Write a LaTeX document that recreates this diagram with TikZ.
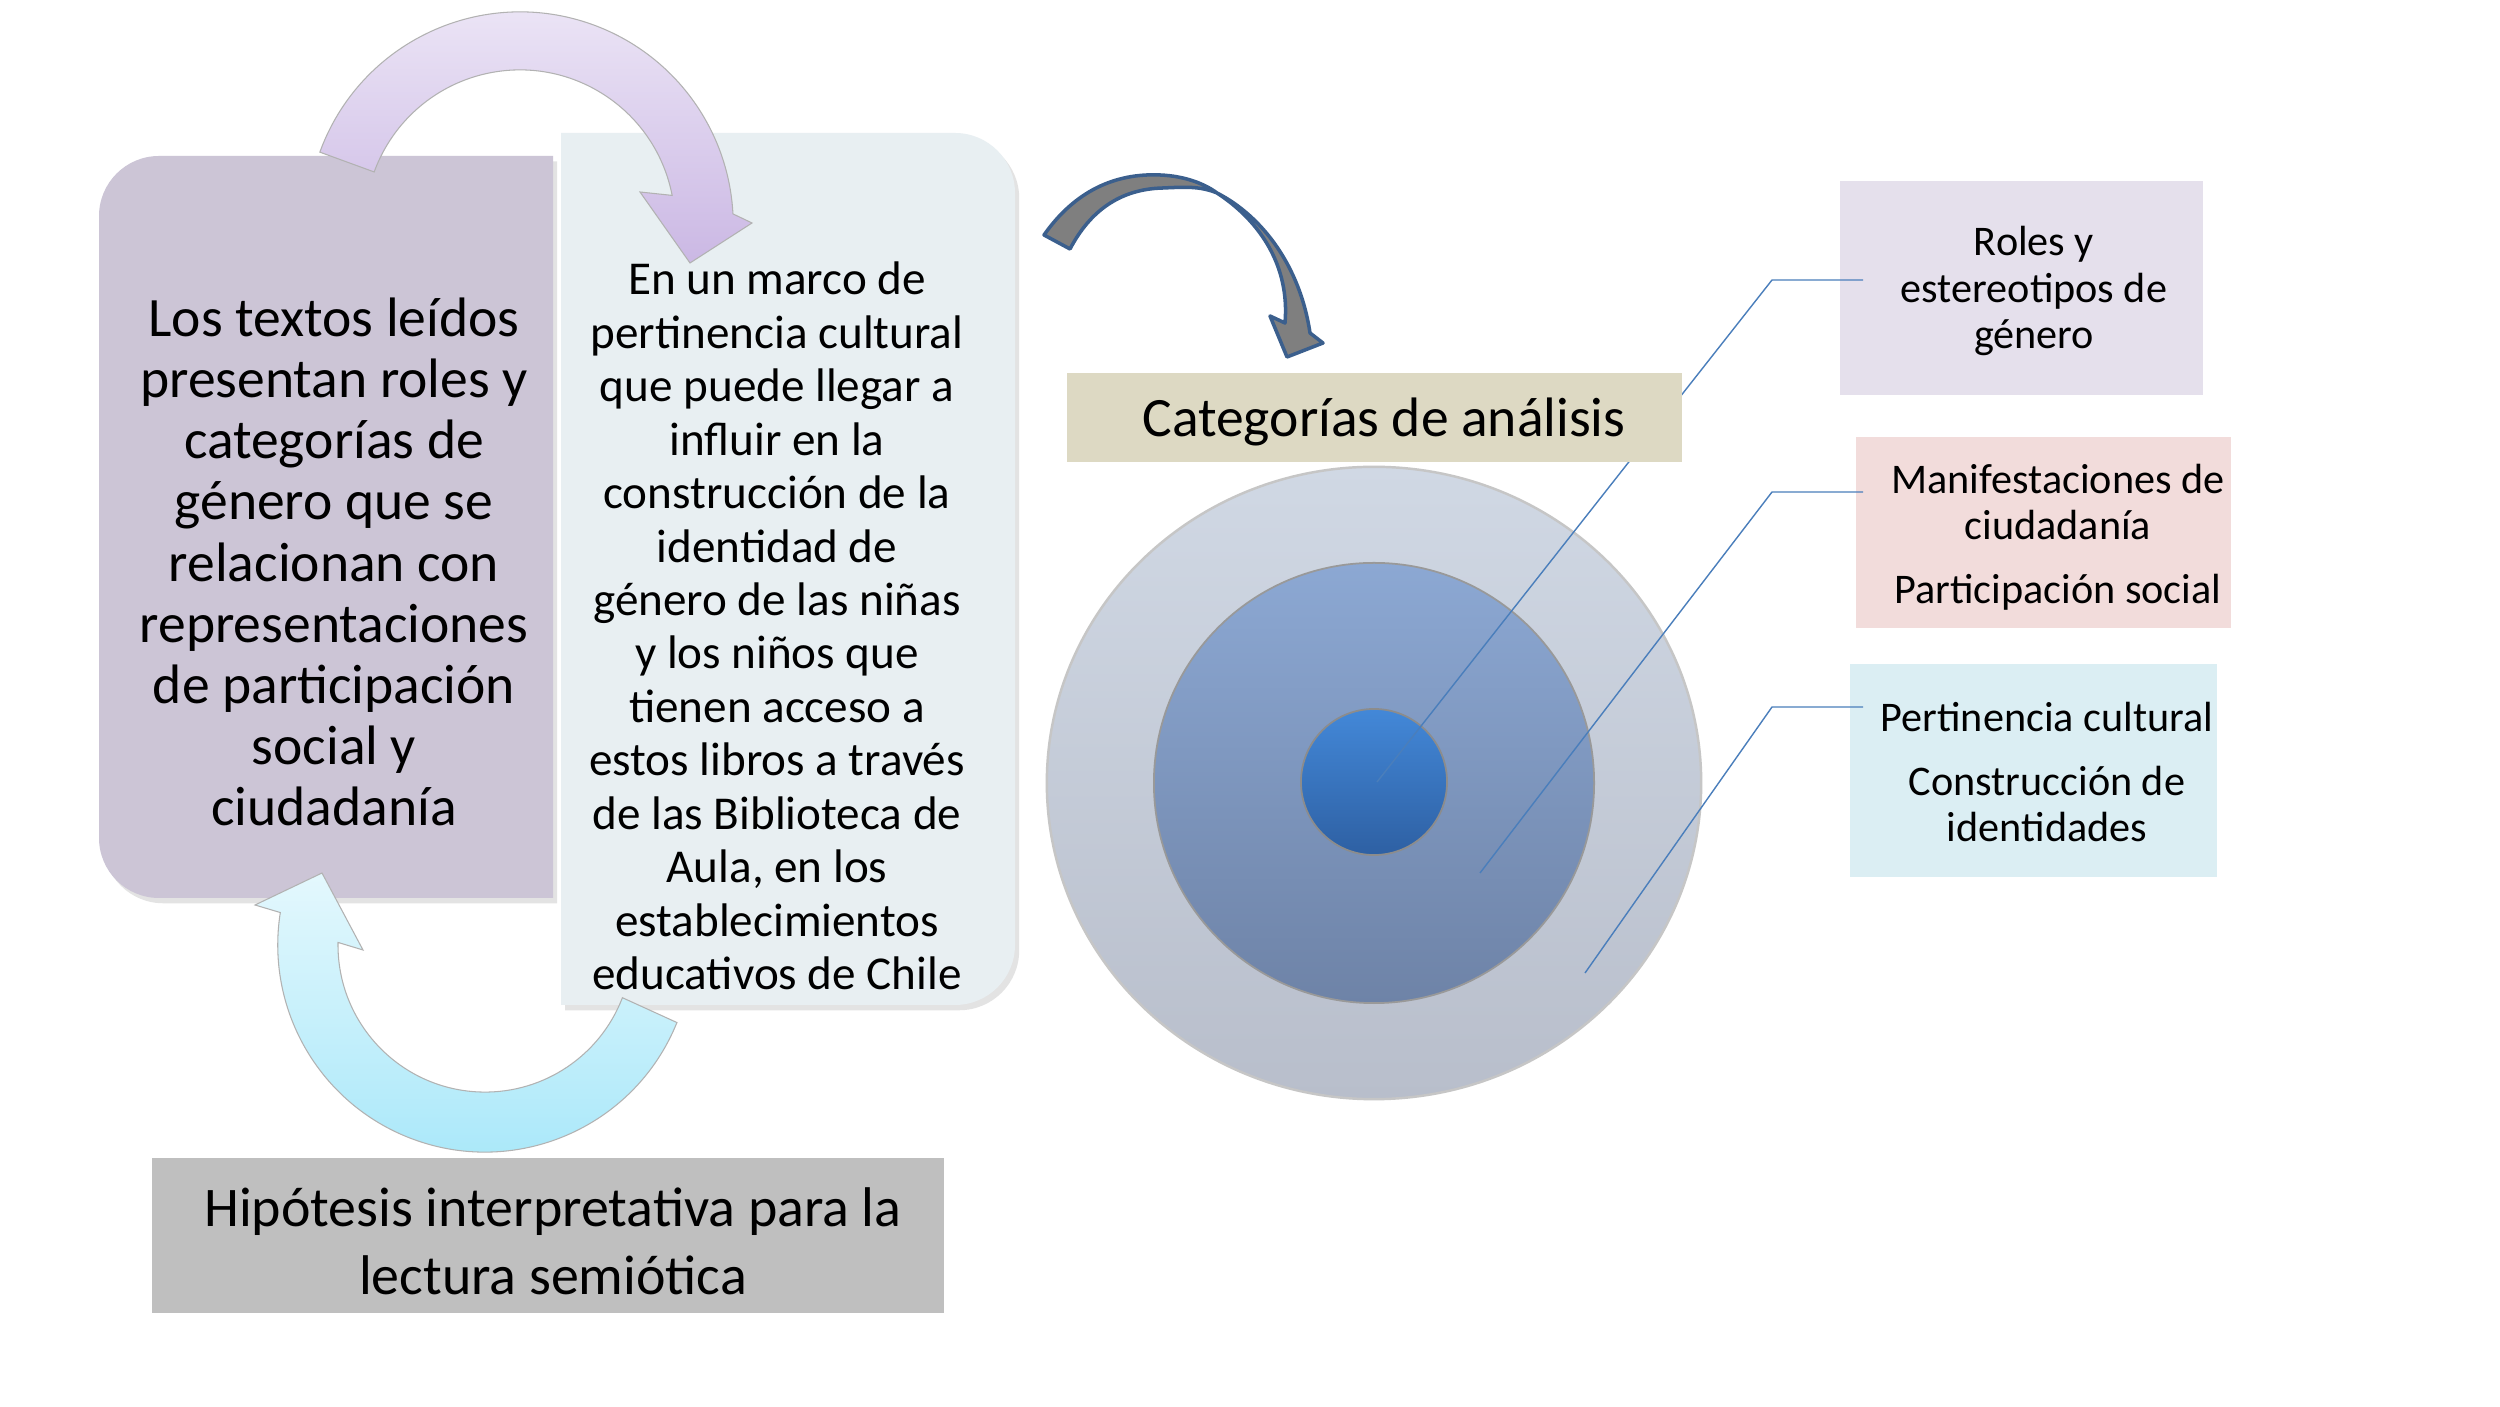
\documentclass[tikz,border=0pt]{standalone}
\usepackage{fontspec}
\setmainfont{Carlito}
\usetikzlibrary{calc,shadows}
\definecolor{lboxc}{HTML}{CCC5D6}
\definecolor{rboxc}{HTML}{E8EFF2}
\definecolor{hipc}{HTML}{BFBFBF}
\definecolor{catc}{HTML}{DDD9C3}
\definecolor{rolesc}{HTML}{E5E0EC}
\definecolor{manc}{HTML}{F2DCDB}
\definecolor{pertc}{HTML}{DBEEF3}
\definecolor{linec}{HTML}{4A7EBB}
\definecolor{darkfill}{HTML}{7F7F7F}
\definecolor{darkstroke}{HTML}{3B5F8D}
\definecolor{purtop}{HTML}{EEE8F7}
\definecolor{purbot}{HTML}{CBB8E4}
\definecolor{cyantop}{HTML}{E4F8FD}
\definecolor{cyanbot}{HTML}{A6E7F9}
\definecolor{outtop}{HTML}{D0D8E4}
\definecolor{outbot}{HTML}{B8BECB}
\definecolor{midtop}{HTML}{8CA8D3}
\definecolor{midbot}{HTML}{6E83A7}
\definecolor{intop}{HTML}{4388D8}
\definecolor{inbot}{HTML}{2E60A3}
\tikzset{
  softshadow/.style={drop shadow={shadow xshift=1.2pt,shadow yshift=-1.5pt,opacity=0.22}},
  txtbig/.style={align=center,font=\fontsize{15.8}{17.4}\selectfont},
  txtmid/.style={align=center,font=\fontsize{13.4}{15.2}\selectfont},
  txtsmall/.style={align=center,font=\fontsize{12}{13.1}\selectfont},
  conn/.style={draw=linec,line width=0.4pt},
}
\begin{document}
\begin{tikzpicture}[x=0.01cm,y=0.01cm]
\useasboundingbox (0,0) rectangle (2500,1406);
\fill[white] (0,0) rectangle (2500,1406);

% left and right text boxes
\path[fill=lboxc,softshadow] (553,1250) [rounded corners=0.6cm] -- (99,1250) -- (99,508) [sharp corners] -- (553,508) -- cycle;
\path[fill=rboxc,softshadow] (561,1273) [rounded corners=0.6cm] -- (1015,1273) -- (1015,401) [sharp corners] -- (561,401) -- cycle;

\node[txtbig] (lefttext) at (334,844) {Los textos leídos\\presentan roles y\\categorías de\\género que se\\relacionan con\\representaciones\\de participación\\social y\\ciudadanía};

\node[txtmid] (righttext) at (777,780) {En un marco de\\pertinencia cultural\\que puede llegar a\\influir en la\\construcción de la\\identidad de\\género de las niñas\\y los niños que\\tienen acceso a\\estos libros a través\\de las Biblioteca de\\Aula, en los\\establecimientos\\educativos de Chile};

% purple curved arrow
\coordinate (c1) at (520,1181);
\path[top color=purtop,bottom color=purbot,draw=gray!60,line width=0.3pt]
  ($(c1)+(160:213)$) arc[start angle=160,end angle=3,radius=2.13cm]
  -- (752,1183) -- (690,1143) -- (640,1214)
  -- ($(c1)+(11:155)$) arc[start angle=11,end angle=160,radius=1.55cm] -- cycle;

% cyan curved arrow
\coordinate (c2) at (485,461);
\path[top color=cyantop,bottom color=cyanbot,draw=gray!60,line width=0.3pt]
  ($(c2)+(-22:207)$) arc[start angle=-22,end angle=-189,radius=2.07cm]
  -- (255,501) -- (322,533) -- (363,456)
  -- ($(c2)+(-181:147)$) arc[start angle=-181,end angle=-21,radius=1.47cm] -- cycle;

% hypothesis box
\path[fill=hipc] (152,93) rectangle (944,248);
\node[align=center,font=\fontsize{15.9}{19.4}\selectfont] (hiptext) at (553,165) {Hipótesis interpretativa para la\\lectura semiótica};

% concentric circles
\path[top color=outtop,bottom color=outbot,draw=gray!45,line width=0.7pt] (1374,623) ellipse [x radius=3.27cm,y radius=3.16cm];
\path[top color=midtop,bottom color=midbot,draw=black!40,line width=0.5pt] (1374,623) circle [radius=2.20cm];
\path[top color=intop,bottom color=inbot,draw=black!45,line width=0.5pt] (1374,624) circle [radius=0.73cm];

% right category boxes
\path[fill=rolesc] (1840,1011) rectangle (2203,1225);
\path[fill=manc] (1856,778) rectangle (2231,969);
\path[fill=pertc] (1850,529) rectangle (2217,742);
\node[txtsmall] (roles) at (2034,1115) {Roles y\\estereotipos de\\género};
\node[txtsmall] (manif) at (2058,869) {Manifestaciones de\\ciudadanía\\[5pt]Participación social};
\node[txtsmall] (pert) at (2047,634) {Pertinencia cultural\\[5pt]Construcción de\\identidades};

% connector lines
\coordinate (p1) at (1377,624); \coordinate (b1) at (1772,1126); \coordinate (e1) at (1863,1126);
\coordinate (p2) at (1480,533); \coordinate (b2) at (1772,914);  \coordinate (e2) at (1863,914);
\coordinate (p3) at (1585,433); \coordinate (b3) at (1772,699);  \coordinate (e3) at (1863,699);
\draw[conn] (p1) -- (b1) -- (e1);
\draw[conn] (p2) -- (b2) -- (e2);
\draw[conn] (p3) -- (b3) -- (e3);

% categories title
\path[fill=catc] (1067,944) rectangle (1682,1033);
\node[font=\fontsize{15.8}{19}\selectfont,anchor=base] (cattext) at (1384,969) {Categorías de análisis};

% dark curved arrow
\path[fill=darkfill,draw=darkstroke,line width=1pt,line join=round]
  (1044,1171) .. controls (1075,1215) and (1115,1233) .. (1160,1231)
  .. controls (1185,1230) and (1205,1222) .. (1217,1213)
  .. controls (1262,1190) and (1300,1140) .. (1310,1073)
  -- (1323,1063) -- (1287,1049) -- (1270,1090) -- (1285,1083)
  .. controls (1290,1140) and (1260,1185) .. (1217,1213)
  .. controls (1200,1220) and (1185,1219) .. (1163,1218)
  .. controls (1120,1217) and (1090,1195) .. (1070,1157) -- cycle;
\end{tikzpicture}
\end{document}
